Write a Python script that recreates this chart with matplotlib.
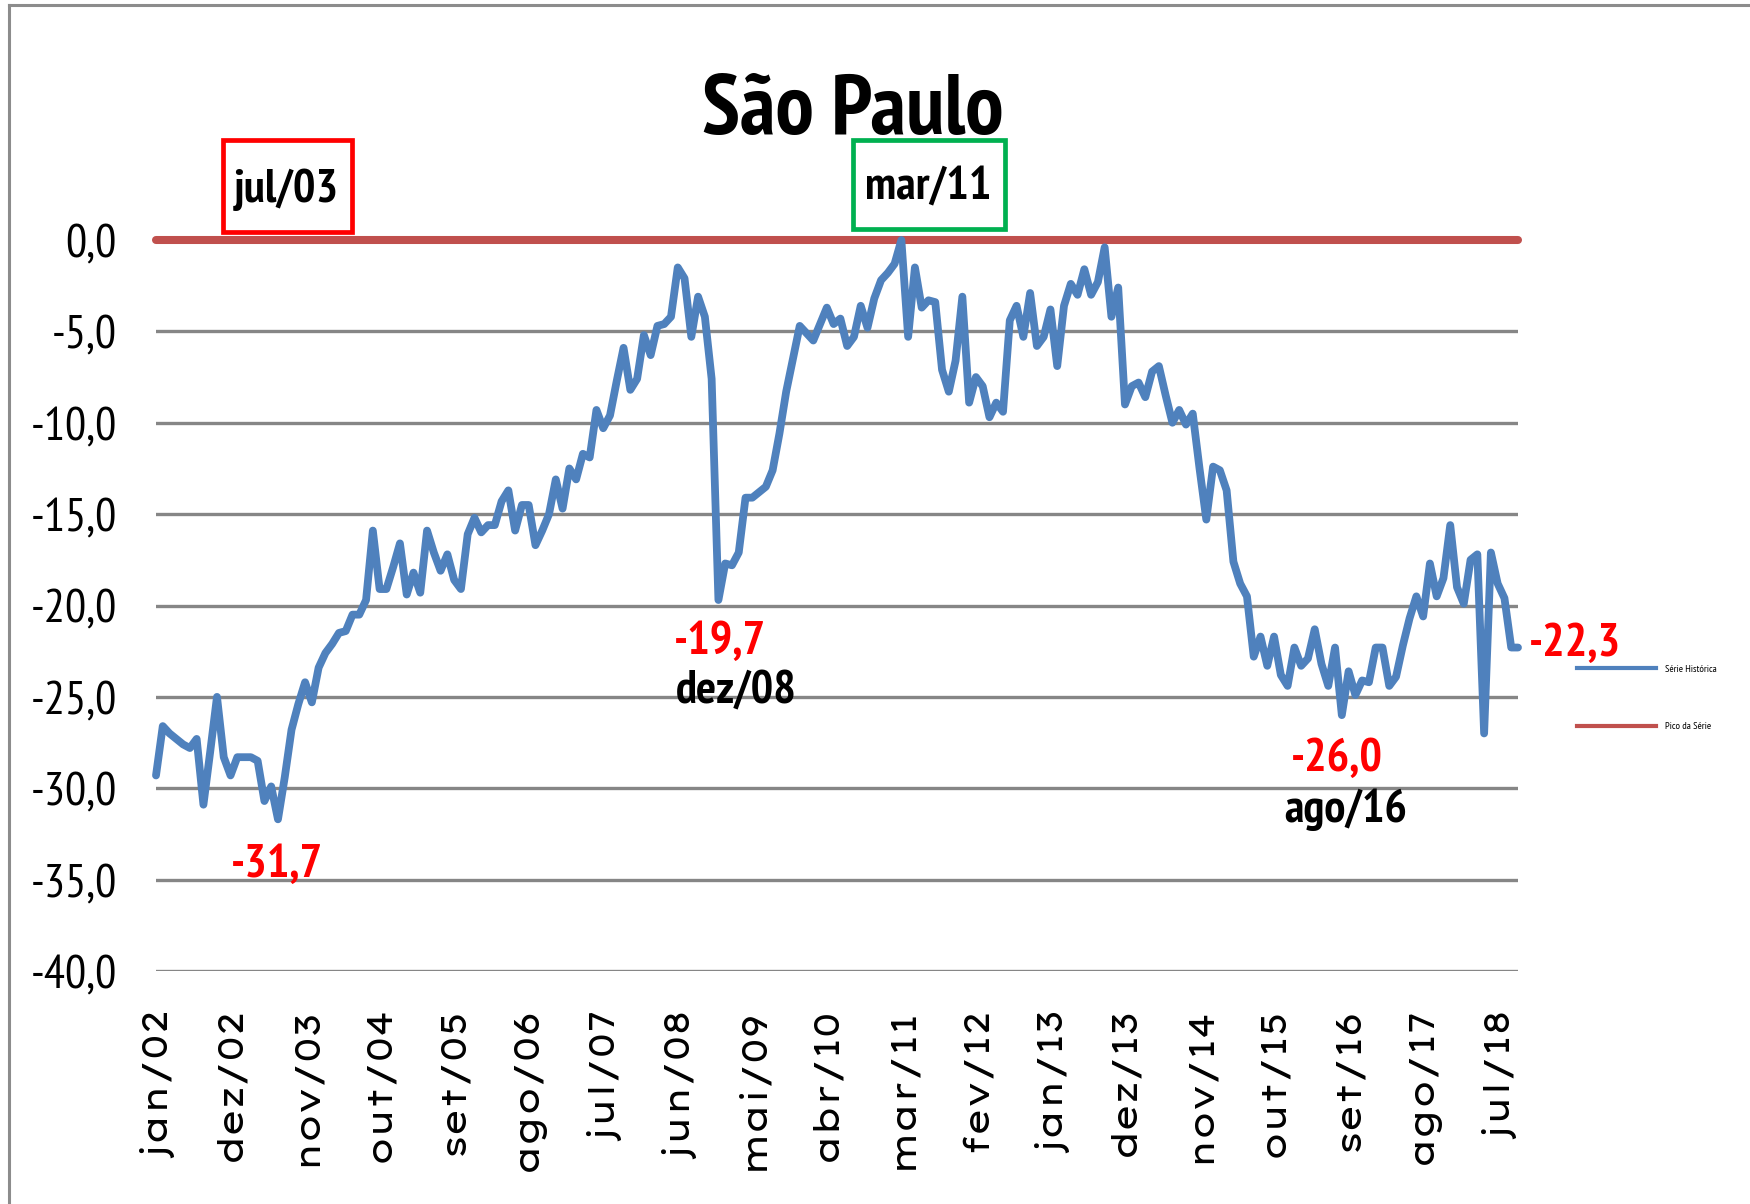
import matplotlib
matplotlib.use("Agg")
import matplotlib.pyplot as plt
from matplotlib.lines import Line2D
from matplotlib.patches import Rectangle

# ---------------- data ----------------
series_values = [
    -29.3, -26.6, -27.0, -27.3, -27.6, -27.8, -27.3, -30.9, -28.0, -25.0,
    -28.3, -29.3, -28.3, -28.3, -28.3, -28.5, -30.7, -29.9, -31.7, -29.4,
    -26.8, -25.4, -24.2, -25.3, -23.4, -22.6, -22.1, -21.5, -21.4, -20.5,
    -20.5, -19.7, -15.9, -19.1, -19.1, -17.9, -16.6, -19.4, -18.2, -19.3,
    -15.9, -17.1, -18.1, -17.2, -18.6, -19.1, -16.1, -15.2, -16.0, -15.6,
    -15.6, -14.3, -13.7, -15.9, -14.5, -14.5, -16.7, -15.9, -15.0, -13.1,
    -14.7, -12.5, -13.1, -11.7, -11.9, -9.3, -10.3, -9.6, -7.7, -5.9,
    -8.2, -7.6, -5.2, -6.3, -4.7, -4.6, -4.2, -1.5, -2.1, -5.3,
    -3.1, -4.2, -7.6, -19.7, -17.7, -17.8, -17.1, -14.1, -14.1, -13.8,
    -13.5, -12.6, -10.6, -8.3, -6.5, -4.7, -5.1, -5.5, -4.6, -3.7,
    -4.6, -4.3, -5.8, -5.3, -3.6, -4.8, -3.2, -2.2, -1.8, -1.3,
    0.0, -5.3, -1.5, -3.7, -3.3, -3.4, -7.1, -8.3, -6.6, -3.1,
    -8.9, -7.5, -8.0, -9.7, -8.9, -9.4, -4.4, -3.6, -5.3, -2.9,
    -5.8, -5.3, -3.8, -6.9, -3.6, -2.4, -3.0, -1.6, -3.0, -2.3,
    -0.4, -4.2, -2.6, -9.0, -8.0, -7.8, -8.6, -7.2, -6.9, -8.5,
    -10.0, -9.3, -10.1, -9.5, -12.5, -15.3, -12.4, -12.6, -13.7, -17.6,
    -18.8, -19.5, -22.8, -21.7, -23.3, -21.7, -23.8, -24.4, -22.3, -23.3,
    -22.9, -21.3, -23.2, -24.4, -22.3, -26.0, -23.6, -24.9, -24.1, -24.2,
    -22.3, -22.3, -24.4, -23.9, -22.2, -20.7, -19.5, -20.6, -17.7, -19.5,
    -18.5, -15.6, -19.0, -19.9, -17.5, -17.2, -27.0, -17.1, -18.8, -19.6,
    -22.3, -22.3,
]
peak_value = 0.0

tick_labels = ["jan/02", "dez/02", "nov/03", "out/04", "set/05", "ago/06",
               "jul/07", "jun/08", "mai/09", "abr/10", "mar/11", "fev/12",
               "jan/13", "dez/13", "nov/14", "out/15", "set/16", "ago/17",
               "jul/18"]
tick_step = 11
y_ticks = [0, -5, -10, -15, -20, -25, -30, -35, -40]
y_tick_labels = ["0,0", "-5,0", "-10,0", "-15,0", "-20,0", "-25,0",
                 "-30,0", "-35,0", "-40,0"]

legend_labels = ["Série Histórica", "Pico da Série"]
title = "São Paulo"

# annotations: (text, x index, y value, colour)
annotations = [
    ("-31,7", 17.9, -34.2, "#FF0000"),
    ("-19,7", 83.2, -22.0, "#FF0000"),
    ("dez/08", 85.7, -24.7, "black"),
    ("-26,0", 174.3, -28.4, "#FF0000"),
    ("ago/16", 175.6, -31.2, "black"),
    ("-22,3", 209.4, -22.1, "#FF0000"),
]
# boxed labels: (text, text x, text y, box x0, box x1, box y0, box y1, colour)
boxes = [
    ("jul/03", 19.3, 2.75, 9.9, 28.9, 0.45, 5.45, "#FF0000"),
    ("mar/11", 113.9, 2.85, 102.9, 125.3, 0.6, 5.45, "#00B050"),
]

# ---------------- style ----------------
NARROW = ["PT Sans Narrow", "Roboto Condensed", "Open Sans Condensed", "DejaVu Sans"]
WIDE = ["Lexend Mega", "DejaVu Sans"]
BLUE = "#4F81BD"
RED = "#C0504D"
GRID = "#868686"

W, H = 1750, 1204
fig = plt.figure(figsize=(W / 100, H / 100), dpi=100)
fig.patch.set_facecolor("white")

# outer chart border (left and top visible)
fig.add_artist(Line2D([9 / W, 9 / W], [0, 1 - 5 / H], color="#8C8C8C", lw=2.2,
                      transform=fig.transFigure))
fig.add_artist(Line2D([9 / W, 1], [1 - 5 / H, 1 - 5 / H], color="#8C8C8C", lw=2.2,
                      transform=fig.transFigure))

ax_left, ax_right = 156 / W, 1518 / W
ax_top, ax_bottom = 1 - 240 / H, 1 - 971 / H
ax = fig.add_axes([ax_left, ax_bottom, ax_right - ax_left, ax_top - ax_bottom])

x = list(range(len(series_values)))
ax.plot(x, [peak_value] * len(x), color=RED, lw=5.8, solid_capstyle="round",
        clip_on=False, zorder=3)
ax.plot(x, series_values, color=BLUE, lw=5.6, solid_joinstyle="round",
        solid_capstyle="round", clip_on=False, zorder=4)

ax.set_xlim(0, len(x) - 1)
ax.set_ylim(-40, 0)
ax.set_yticks(y_ticks)
ax.set_yticklabels(y_tick_labels, fontfamily=NARROW, fontsize=34)
ax.set_xticks(list(range(0, len(x), tick_step)))
ax.set_xticklabels(tick_labels, rotation=90, fontsize=25, fontfamily=WIDE)
ax.tick_params(axis="both", length=0)
ax.tick_params(axis="y", pad=28)
ax.tick_params(axis="x", pad=26)
ax.yaxis.grid(True, color=GRID, lw=2.4, zorder=1)
ax.set_axisbelow(True)
for s in ax.spines.values():
    s.set_visible(False)

fig.text(853 / W, 1 - 134 / H, title, fontsize=62, fontweight="bold",
         fontfamily=NARROW, ha="center", va="baseline")

for txt, xi, yv, col in annotations:
    ax.text(xi, yv, txt, color=col, fontsize=34, fontweight="bold",
            fontfamily=NARROW, ha="center", va="center", clip_on=False)

for txt, xi, yv, bx0, bx1, by0, by1, col in boxes:
    ax.add_patch(Rectangle((bx0, by0), bx1 - bx0, by1 - by0, fc="white", ec=col,
                           lw=3.4, clip_on=False, zorder=5))
    ax.text(xi, yv, txt, color="black", fontsize=34, fontweight="bold",
            fontfamily=NARROW, ha="center", va="center", clip_on=False, zorder=6)

handles = [Line2D([], [], color=BLUE, lw=3), Line2D([], [], color=RED, lw=3)]
fig.legend(handles, legend_labels, loc="center left",
           bbox_to_anchor=(1568 / W, 1 - 698 / H), frameon=False,
           handlelength=7.5, labelspacing=4.6, handletextpad=0.9,
           prop={"family": NARROW, "size": 7.5})

fig.savefig("out.png", dpi=100, facecolor="white")
